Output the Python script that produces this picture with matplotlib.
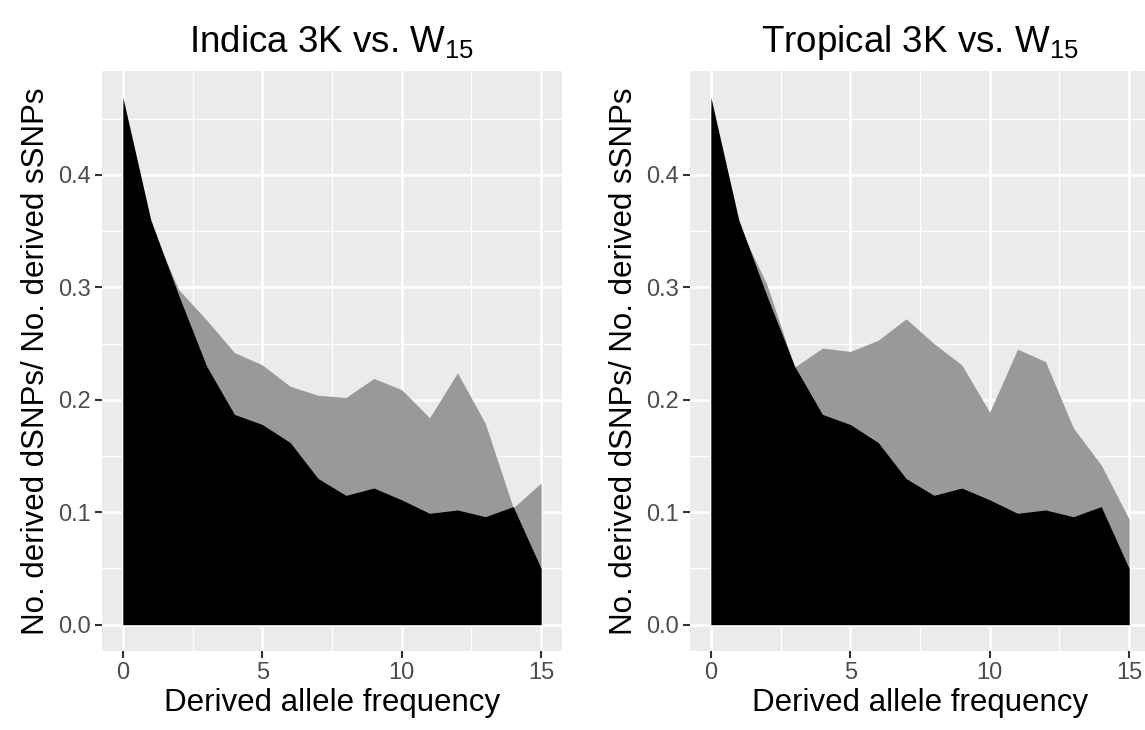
import matplotlib
matplotlib.use("Agg")
import matplotlib.pyplot as plt
import numpy as np

freq = list(range(16))
syn_ratio = [0.469, 0.360, 0.293, 0.230, 0.187, 0.178, 0.162, 0.130, 0.115, 0.1215,
             0.111, 0.099, 0.102, 0.096, 0.105, 0.050]
indica_ratio = [0.460, 0.355, 0.298, 0.271, 0.242, 0.231, 0.212, 0.204, 0.202, 0.219,
                0.209, 0.184, 0.224, 0.179, 0.104, 0.126]
tropical_ratio = [0.460, 0.355, 0.303, 0.229, 0.246, 0.243, 0.253, 0.272, 0.250, 0.231,
                  0.189, 0.245, 0.234, 0.175, 0.142, 0.094]
titles = ["Indica 3K vs. W$_{15}$", "Tropical 3K vs. W$_{15}$"]
xticks = [0, 5, 10, 15]
yticks = [0.0, 0.1, 0.2, 0.3, 0.4]

plt.rcParams['font.family'] = ['Liberation Sans', 'DejaVu Sans']
plt.rcParams['mathtext.fontset'] = 'custom'
plt.rcParams['mathtext.rm'] = 'Liberation Sans'
plt.rcParams['mathtext.it'] = 'Liberation Sans'
plt.rcParams['mathtext.default'] = 'regular'

fig = plt.figure(figsize=(11.45, 7.3), dpi=100)
W, H = 1145, 730
positions = [(102, 71, 460, 580), (690, 71, 460, 580)]
series = [indica_ratio, tropical_ratio]

ymax = max(syn_ratio)
for (l, t, w, h), title, ser in zip(positions, titles, series):
    ax = fig.add_axes([l / W, (H - t - h) / H, w / W, h / H])
    ax.set_facecolor('#EBEBEB')
    ax.fill_between(freq, 0, ser, color='#999999', linewidth=0, zorder=2)
    ax.fill_between(freq, 0, syn_ratio, color='black', linewidth=0, zorder=3)
    ax.set_xlim(-0.75, 15.75)
    ax.set_ylim(-0.05 * ymax, ymax * 1.05)
    ax.set_xticks(xticks)
    ax.set_yticks(yticks)
    ax.set_xticklabels([str(v) for v in xticks])
    ax.set_yticklabels([f"{v:.1f}" for v in yticks])
    ax.set_xticks([2.5, 7.5, 12.5], minor=True)
    ax.set_yticks([0.05, 0.15, 0.25, 0.35, 0.45], minor=True)
    ax.grid(which='major', color='white', linewidth=1.9, zorder=1)
    ax.grid(which='minor', color='white', linewidth=0.95, zorder=1)
    ax.set_axisbelow(True)
    for s in ax.spines.values():
        s.set_visible(False)
    ax.tick_params(which='major', length=5, width=1.5, color='#333333',
                   labelcolor='#4D4D4D', labelsize=17, pad=3)
    ax.tick_params(which='minor', length=0)
    ax.set_xlabel("Derived allele frequency", fontsize=22.5, labelpad=3)
    ax.set_ylabel("No. derived dSNPs/ No. derived sSNPs", fontsize=22.5, labelpad=5)
    ax.set_title(title, fontsize=26.5, pad=14)

fig.savefig("out.png", dpi=100)
